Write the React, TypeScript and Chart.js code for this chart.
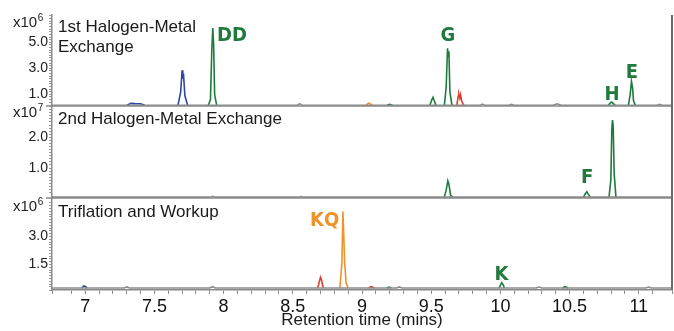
import React, { useEffect, useRef } from 'react';
import { Chart, registerables } from 'chart.js';
Chart.register(...registerables);

// ---------- shared axis data ----------
const X_MIN = 6.76;
const X_MAX = 11.24;
const xTickLabels = [7, 7.5, 8, 8.5, 9, 9.5, 10, 10.5, 11];
const xTitle = 'Retention time (mins)';

const GREEN = '#1f7a3c';
const BLUE = '#2f45a0';
const ORANGE = '#f0922a';
const RED = '#e03c2c';
const GRAY = '#8c8c8c';

// ---------- panel 1 : 1st Halogen-Metal Exchange (x10^6) ----------
const p1Title = ['1st Halogen-Metal', 'Exchange'];
const p1Exp = '6';
const p1YMin = 0.1;
const p1YMax = 7.09;
const p1YTicks = [1, 3, 5];
const p1Gray = [[6.76, 0.15], [8.53, 0.15], [8.55, 0.28], [8.57, 0.15], [9.85, 0.15], [9.87, 0.25], [9.89, 0.15], [10.06, 0.15], [10.08, 0.22], [10.1, 0.15], [10.38, 0.15], [10.41, 0.27], [10.44, 0.15], [11.13, 0.15], [11.15, 0.22], [11.17, 0.15], [11.24, 0.15]];
const p1Blue = [
  [[7.3, 0.15], [7.33, 0.3], [7.36, 0.28], [7.4, 0.27], [7.43, 0.15]],
  [[7.67, 0.15], [7.69, 1.2], [7.7, 2.85], [7.705, 2.2], [7.71, 2.6], [7.72, 0.9], [7.74, 0.15]],
];
const p1Green = [
  [[7.89, 0.15], [7.905, 0.6], [7.915, 4.5], [7.922, 6.08], [7.928, 4.8], [7.935, 1.0], [7.95, 0.15]],
  [[9.18, 0.15], [9.2, 0.22], [9.22, 0.15]],
  [[9.49, 0.15], [9.505, 0.6], [9.513, 0.77], [9.522, 0.5], [9.535, 0.15]],
  [[9.595, 0.15], [9.608, 1.5], [9.618, 4.54], [9.623, 3.9], [9.628, 4.3], [9.635, 1.2], [9.65, 0.15]],
  [[10.78, 0.15], [10.795, 0.35], [10.804, 0.41], [10.815, 0.3], [10.83, 0.15]],
  [[10.925, 0.15], [10.938, 1.0], [10.947, 2.0], [10.955, 1.5], [10.962, 0.5], [10.975, 0.15]],
];
const p1Orange = [[[9.03, 0.15], [9.045, 0.3], [9.05, 0.31], [9.06, 0.28], [9.075, 0.15]]];
const p1Red = [[[9.685, 0.15], [9.695, 0.85], [9.7, 1.0], [9.707, 0.7], [9.712, 0.95], [9.72, 0.5], [9.735, 0.15]]];
const p1Labels = ['DD', 'G', 'H', 'E'];
const p1LabelTimes = [8.06, 9.62, 10.806, 10.95];
const p1LabelValues = [5.08, 5.1, 0.54, 2.23];
const p1LabelColors = [GREEN, GREEN, GREEN, GREEN];

// ---------- panel 2 : 2nd Halogen-Metal Exchange (x10^7) ----------
const p2Title = ['2nd Halogen-Metal Exchange'];
const p2Exp = '7';
const p2YMin = 0.023;
const p2YMax = 3.02;
const p2YTicks = [1, 2];
const p2Gray = [[6.76, 0.05], [7.9, 0.05], [7.92, 0.08], [7.94, 0.05], [8.54, 0.05], [8.56, 0.07], [8.58, 0.05], [11.24, 0.05]];
const p2Green = [
  [[9.595, 0.05], [9.61, 0.32], [9.62, 0.58], [9.628, 0.47], [9.64, 0.12], [9.655, 0.05]],
  [[10.6, 0.05], [10.615, 0.17], [10.625, 0.23], [10.635, 0.15], [10.65, 0.05]],
  [[10.785, 0.05], [10.798, 0.62], [10.805, 2.24], [10.81, 2.56], [10.815, 2.38], [10.822, 0.82], [10.835, 0.05]],
];
const p2Labels = ['F'];
const p2LabelTimes = [10.626];
const p2LabelValues = [0.51];
const p2LabelColors = [GREEN];

// ---------- panel 3 : Triflation and Workup (x10^6) ----------
const p3Title = ['Triflation and Workup'];
const p3Exp = '6';
const p3YMin = 0.134;
const p3YMax = 5.06;
const p3YTicks = [1.5, 3];
const p3Gray = [[6.76, 0.24], [7.28, 0.24], [7.3, 0.3], [7.32, 0.24], [7.9, 0.24], [7.92, 0.31], [7.94, 0.24], [9.25, 0.24], [9.27, 0.3], [9.29, 0.24], [10.26, 0.24], [10.28, 0.29], [10.3, 0.24], [11.05, 0.24], [11.07, 0.29], [11.09, 0.24], [11.24, 0.24]];
const p3Blue = [[[6.975, 0.24], [6.99, 0.35], [7.0, 0.32], [7.015, 0.24]]];
const p3Red = [
  [[8.68, 0.24], [8.693, 0.62], [8.7, 0.81], [8.707, 0.68], [8.72, 0.24]],
  [[9.05, 0.24], [9.065, 0.31], [9.075, 0.29], [9.09, 0.24]],
];
const p3Orange = [[[8.84, 0.24], [8.855, 1.6], [8.862, 4.33], [8.868, 3.1], [8.874, 1.7], [8.885, 0.5], [8.9, 0.24]]];
const p3Green = [
  [[9.18, 0.24], [9.195, 0.29], [9.21, 0.24]],
  [[9.99, 0.24], [10.003, 0.43], [10.01, 0.52], [10.018, 0.43], [10.03, 0.24]],
  [[10.45, 0.24], [10.465, 0.31], [10.475, 0.29], [10.49, 0.24]],
];
const p3Labels = ['KQ', 'K'];
const p3LabelTimes = [8.73, 10.008];
const p3LabelValues = [3.56, 0.67];
const p3LabelColors = [ORANGE, GREEN];

const FONT = '"Liberation Sans", Arial, sans-serif';
const LABEL_FONT = 'bold 20px "Liberation Sans Narrow", "DejaVu Sans Condensed", sans-serif';

type Pt = number[];
type PanelDef = {
  top: number;
  height: number;
  padTop: number;
  padBottom: number;
  xHeight: number;
  showX: boolean;
  title: string[];
  titleDy: number;
  exp: string;
  expDy: number;
  yMin: number;
  yMax: number;
  yStep: number;
  yTicks: number[];
  series: { color: string; segs: Pt[][] }[];
  labels: string[];
  labelTimes: number[];
  labelValues: number[];
  labelColors: string[];
};

const panels: PanelDef[] = [
  {
    top: 0, height: 116, padTop: 15, padBottom: 10, xHeight: 0, showX: false,
    title: p1Title, titleDy: 17, exp: p1Exp, expDy: 12,
    yMin: p1YMin, yMax: p1YMax, yStep: 0.2, yTicks: p1YTicks,
    series: [
      { color: GRAY, segs: [p1Gray] },
      { color: BLUE, segs: p1Blue },
      { color: ORANGE, segs: p1Orange },
      { color: RED, segs: p1Red },
      { color: GREEN, segs: p1Green },
    ],
    labels: p1Labels, labelTimes: p1LabelTimes, labelValues: p1LabelValues, labelColors: p1LabelColors,
  },
  {
    top: 96, height: 112, padTop: 10, padBottom: 10, xHeight: 0, showX: false,
    title: p2Title, titleDy: 18, exp: p2Exp, expDy: 11,
    yMin: p2YMin, yMax: p2YMax, yStep: 0.1, yTicks: p2YTicks,
    series: [
      { color: GRAY, segs: [p2Gray] },
      { color: GREEN, segs: p2Green },
    ],
    labels: p2Labels, labelTimes: p2LabelTimes, labelValues: p2LabelValues, labelColors: p2LabelColors,
  },
  {
    top: 188, height: 143, padTop: 10, padBottom: 0, xHeight: 41, showX: true,
    title: p3Title, titleDy: 19, exp: p3Exp, expDy: 13,
    yMin: p3YMin, yMax: p3YMax, yStep: 0.15, yTicks: p3YTicks,
    series: [
      { color: GRAY, segs: [p3Gray] },
      { color: BLUE, segs: p3Blue },
      { color: RED, segs: p3Red },
      { color: ORANGE, segs: p3Orange },
      { color: GREEN, segs: p3Green },
    ],
    labels: p3Labels, labelTimes: p3LabelTimes, labelValues: p3LabelValues, labelColors: p3LabelColors,
  },
];

function Panel({ def }: { def: PanelDef }) {
  const ref = useRef<HTMLCanvasElement>(null);
  useEffect(() => {
    if (!ref.current) return;
    const datasets: any[] = [];
    def.series.forEach((s) => {
      s.segs.forEach((seg) => {
        datasets.push({
          data: seg,
          borderColor: s.color,
          borderWidth: 1.6,
          pointRadius: 0,
          tension: 0,
          fill: false,
        });
      });
    });

    const overlay = {
      id: 'overlay',
      afterDraw(chart: any) {
        const ctx = chart.ctx;
        const ca = chart.chartArea;
        const xs = chart.scales.x;
        const ys = chart.scales.y;
        ctx.save();
        ctx.strokeStyle = '#8a8a8a';
        ctx.lineWidth = 1.5;
        if (!def.showX) {
          ctx.beginPath();
          ctx.moveTo(ca.left - 6, ca.bottom);
          ctx.lineTo(ca.right, ca.bottom);
          ctx.stroke();
        }
        ctx.strokeStyle = '#6a6a6a';
        ctx.lineWidth = 2;
        ctx.beginPath();
        ctx.moveTo(ca.right, ca.top);
        ctx.lineTo(ca.right, ca.bottom);
        ctx.stroke();
        // exponent
        ctx.fillStyle = '#222';
        ctx.textAlign = 'left';
        ctx.textBaseline = 'alphabetic';
        ctx.font = '15px ' + FONT;
        const ey = ca.top + def.expDy;
        ctx.fillText('x10', 13, ey);
        const w = ctx.measureText('x10').width;
        ctx.font = '10px ' + FONT;
        ctx.fillText(def.exp, 13 + w + 0.5, ey - 6);
        // title
        ctx.font = '17px ' + FONT;
        ctx.fillStyle = '#1a1a1a';
        def.title.forEach((line, i) => {
          ctx.fillText(line, ca.left + 6, ca.top + def.titleDy + i * 20);
        });
        // peak labels
        ctx.font = LABEL_FONT;
        ctx.textAlign = 'center';
        def.labels.forEach((lab, i) => {
          ctx.fillStyle = def.labelColors[i];
          ctx.fillText(lab, xs.getPixelForValue(def.labelTimes[i]), ys.getPixelForValue(def.labelValues[i]));
        });
        ctx.restore();
      },
    };

    const chart = new Chart(ref.current, {
      type: 'line',
      data: { datasets },
      options: {
        animation: false,
        responsive: false,
        events: [],
        layout: { padding: { top: def.padTop, bottom: def.padBottom, left: 0, right: 2 } },
        plugins: { legend: { display: false }, tooltip: { enabled: false } },
        scales: {
          x: {
            type: 'linear',
            min: X_MIN,
            max: X_MAX,
            display: def.showX,
            afterFit: (s: any) => { if (def.showX) s.height = def.xHeight; },
            border: { display: true, color: '#8a8a8a', width: 1.5 },
            grid: { drawOnChartArea: false, drawTicks: true, tickLength: 4, color: '#8a8a8a' },
            title: { display: true, text: xTitle, color: '#1a1a1a', font: { family: FONT, size: 17 }, padding: 0 },
            ticks: {
              stepSize: 0.1,
              autoSkip: false,
              maxRotation: 0,
              padding: 2,
              color: '#111',
              font: { family: FONT, size: 18 },
              callback: (v: any) => {
                const n = Number(v);
                return xTickLabels.some((t) => Math.abs(t - n) < 1e-6) ? String(Number(n.toFixed(1))) : '';
              },
            },
          },
          y: {
            type: 'linear',
            min: def.yMin,
            max: def.yMax,
            afterFit: (s: any) => { s.width = 52; },
            border: { display: true, color: '#8a8a8a', width: 1.5 },
            grid: { drawOnChartArea: false, drawTicks: true, tickLength: 3, color: '#9a9a9a' },
            ticks: {
              stepSize: def.yStep,
              autoSkip: false,
              padding: 1,
              color: '#222',
              font: { family: FONT, size: 14 },
              callback: (v: any) => {
                const n = Number(v);
                return def.yTicks.some((t) => Math.abs(t - n) < 1e-6) ? n.toFixed(1) : '';
              },
            },
          },
        },
      },
      plugins: [overlay],
    } as any);
    return () => chart.destroy();
  }, [def]);
  return (
    <canvas
      ref={ref}
      width={674}
      height={def.height}
      style={{ position: 'absolute', left: 0, top: def.top, width: 674, height: def.height }}
    />
  );
}

export default function App() {
  return (
    <div style={{ position: 'absolute', left: 0, top: 0, width: 674, height: 331, background: '#fff', overflow: 'hidden' }}>
      {panels.map((p, i) => (
        <Panel key={i} def={p} />
      ))}
    </div>
  );
}
